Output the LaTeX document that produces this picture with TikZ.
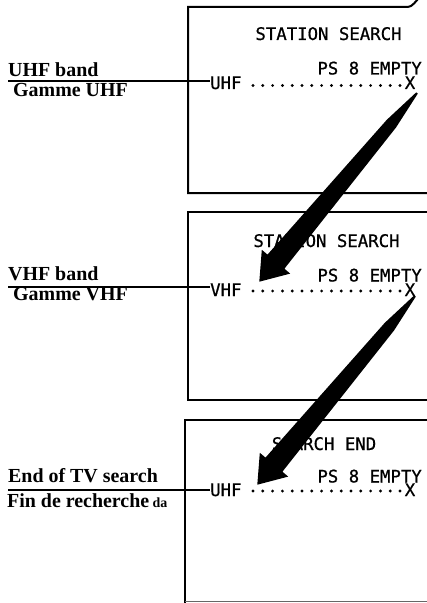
\documentclass[tikz,border=0pt]{standalone}
\usepackage{fontspec}
\setmainfont{Liberation Serif}
\newfontfamily\scrfont[FakeBold=0.7]{DejaVu Sans Mono}
\begin{document}
\begin{tikzpicture}[x=1bp,y=-1bp,
  lab/.style={font=\fontsize{20}{24}\selectfont\bfseries, inner sep=0, anchor=base west},
  scrtxt/.style={font=\scrfont\fontsize{17.4}{20}\selectfont, inner sep=0, text depth=0pt},
  framebox/.style={line width=2bp},
  lead/.style={line width=1.6bp},
  dotmark/.style={fill=black},
  bigarrow/.style={fill=black, draw=none}]
\useasboundingbox (0,0) rectangle (426,603);

% ---------- panel 1 ----------
\draw[framebox] (418,-1) .. controls (411,7) .. (404,7) -- (188,7) -- (188,193) -- (430,193);
\node[scrtxt, anchor=base] (t1) at (328.5,40) {STATION SEARCH};
\node[scrtxt, anchor=base east] (ps1) at (422,74.5) {PS 8 EMPTY};
\node[scrtxt, anchor=base west] (b1) at (210,89) {UHF};
\node[scrtxt, anchor=base] (x1) at (410,89) {X};
\foreach \i in {0,...,15} \fill[dotmark] (253+9.8*\i,85.5) circle (1.6);
\node[lab] (la1) at (8,77) {UHF band};
\node[lab] (lb1) at (13,97) {Gamme UHF};
\coordinate (s1) at (8,81);
\draw[lead] (s1) -- (s1 -| b1.west);

% ---------- panel 2 ----------
\draw[framebox] (430,212) -- (188,212) -- (188,400) -- (430,400);
\node[scrtxt, anchor=base] (t2) at (326.5,247) {STATION SEARCH};
\node[scrtxt, anchor=base east] (ps2) at (422,281.5) {PS 8 EMPTY};
\node[scrtxt, anchor=base west] (b2) at (210,296) {VHF};
\node[scrtxt, anchor=base] (x2) at (410,296) {X};
\foreach \i in {0,...,15} \fill[dotmark] (253+9.8*\i,291) circle (1.6);
\node[lab] (la2) at (8,280) {VHF band};
\node[lab] (lb2) at (13,300) {Gamme VHF};
\coordinate (s2) at (8,287);
\draw[lead] (s2) -- (s2 -| b2.west);

% ---------- panel 3 ----------
\draw[framebox] (430,420) -- (185,420) -- (185,605);
\draw[line width=1.2bp, black!60] (185,601.5) -- (430,601.5);
\node[scrtxt, anchor=base] (t3) at (324,450) {SEARCH END};
\node[scrtxt, anchor=base east] (ps3) at (422,482.5) {PS 8 EMPTY};
\node[scrtxt, anchor=base west] (b3) at (210,496) {UHF};
\node[scrtxt, anchor=base] (x3) at (410,496) {X};
\foreach \i in {0,...,15} \fill[dotmark] (253+9.8*\i,491) circle (1.6);
\node[lab] (la3) at (8,482) {End of TV search};
\node[lab] (lb3) at (7,507) {Fin de recherche};
\node[font=\fontsize{14}{16}\selectfont\bfseries, inner sep=0, anchor=base west] (da) at ([xshift=3bp]lb3.base east) {da};
\coordinate (s3) at (8,490);
\draw[lead] (s3) -- (s3 -| b3.west);

% ---------- arrows ----------
\foreach \dx/\dy in {0/0, -2/203} {
  \begin{scope}[shift={(\dx,\dy)}]
    \fill[bigarrow] (417.8,93.6) -- (396.0,127.5) -- (284.4,268.7) -- (290.2,273.6)
      -- (259.3,281.7) -- (261.8,249.8) -- (267.5,254.6) -- (386.8,119.8)
      -- (416.2,92.4) -- cycle;
  \end{scope}
}
\end{tikzpicture}
\end{document}
